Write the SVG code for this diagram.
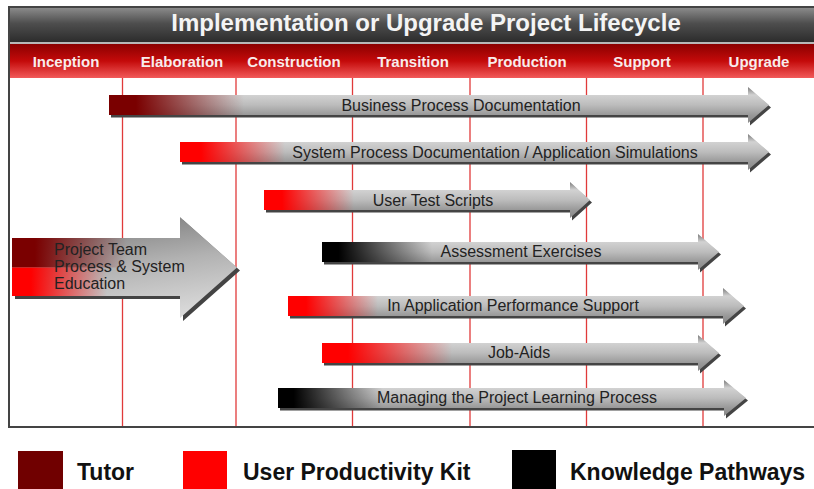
<svg xmlns="http://www.w3.org/2000/svg" width="814" height="489" viewBox="0 0 814 489">
<defs>
<linearGradient id="gTitle" x1="0" y1="0" x2="0" y2="1">
<stop offset="0" stop-color="#8a8a8a"/>
<stop offset="0.45" stop-color="#4e4e4e"/>
<stop offset="1" stop-color="#2c2c2c"/>
</linearGradient>
<linearGradient id="gRed" x1="0" y1="0" x2="0" y2="1">
<stop offset="0" stop-color="#8a0000"/>
<stop offset="0.5" stop-color="#c40a0a"/>
<stop offset="1" stop-color="#f25a5a"/>
</linearGradient>
<linearGradient id="gGray" x1="0" y1="0" x2="0" y2="1">
<stop offset="0" stop-color="#7a7a7a"/>
<stop offset="0.22" stop-color="#d2d2d2"/>
<stop offset="0.5" stop-color="#bcbcbc"/>
<stop offset="0.78" stop-color="#989898"/>
<stop offset="1" stop-color="#888888"/>
</linearGradient>
<linearGradient id="gBig" x1="0.3" y1="0" x2="0.6" y2="1">
<stop offset="0" stop-color="#7a7a7a"/>
<stop offset="0.5" stop-color="#b2b2b2"/>
<stop offset="1" stop-color="#dadada"/>
</linearGradient>
<linearGradient id="fTutor" x1="0" y1="0" x2="1" y2="0">
<stop offset="0" stop-color="#7a0000" stop-opacity="1"/>
<stop offset="0.2" stop-color="#7a0000" stop-opacity="1"/>
<stop offset="1" stop-color="#7a0000" stop-opacity="0"/>
</linearGradient>
<linearGradient id="fUpk" x1="0" y1="0" x2="1" y2="0">
<stop offset="0" stop-color="#ff0000" stop-opacity="1"/>
<stop offset="0.2" stop-color="#ff0000" stop-opacity="1"/>
<stop offset="1" stop-color="#ff0000" stop-opacity="0"/>
</linearGradient>
<linearGradient id="fKp" x1="0" y1="0" x2="1" y2="0">
<stop offset="0" stop-color="#000000" stop-opacity="1"/>
<stop offset="0.15" stop-color="#000000" stop-opacity="1"/>
<stop offset="1" stop-color="#000000" stop-opacity="0"/>
</linearGradient>
</defs>
<style>
.phase{font-family:"Liberation Sans",Arial,sans-serif;font-weight:bold;font-size:15px;fill:#f8ecec;text-anchor:middle}
.title{font-family:"Liberation Sans",Arial,sans-serif;font-weight:bold;font-size:24px;fill:#f4f4f4;text-anchor:middle}
.lbl{font-family:"Liberation Sans",Arial,sans-serif;font-size:16px;fill:#222;text-anchor:middle}
.lbl2{font-family:"Liberation Sans",Arial,sans-serif;font-size:16px;fill:#222}
.leg{font-family:"Liberation Sans",Arial,sans-serif;font-weight:bold;font-size:23px;fill:#111}
.vline{stroke:#e03a3a;stroke-width:1.3}
.shadow{fill:#444444}
.body{fill:url(#gGray)}
</style>
<rect x="0" y="0" width="814" height="489" fill="#ffffff"/>
<g id="frame">
<rect x="9" y="7" width="820" height="420" fill="#ffffff" stroke="#444" stroke-width="2"/>
<rect x="10" y="8" width="810" height="34" fill="url(#gTitle)"/>
<rect x="10" y="42" width="810" height="2" fill="#b8b8b8"/>
<rect x="10" y="44" width="810" height="34" fill="url(#gRed)"/>
<text class="title" x="426" y="31">Implementation or Upgrade Project Lifecycle</text>
</g>
<g id="phases">
<text class="phase" x="66" y="67">Inception</text>
<text class="phase" x="182" y="67">Elaboration</text>
<text class="phase" x="294" y="67">Construction</text>
<text class="phase" x="413" y="67">Transition</text>
<text class="phase" x="527" y="67">Production</text>
<text class="phase" x="642" y="67">Support</text>
<text class="phase" x="759" y="67">Upgrade</text>
</g>
<g id="gridlines">
<line class="vline" x1="122.5" y1="78" x2="122.5" y2="426"/>
<line class="vline" x1="236" y1="78" x2="236" y2="426"/>
<line class="vline" x1="352.5" y1="78" x2="352.5" y2="426"/>
<line class="vline" x1="470" y1="78" x2="470" y2="426"/>
<line class="vline" x1="586.5" y1="78" x2="586.5" y2="426"/>
<line class="vline" x1="703" y1="78" x2="703" y2="426"/>
</g>
<g id="connectors"></g>
<g id="education">
<path class="shadow" transform="translate(3,3)" d="M12,238 H180 V217 L237,267.5 L180,318 V296 H12 Z"/>
<path fill="url(#gBig)" d="M12,238 H180 V217 L237,267.5 L180,318 V296 H12 Z"/>
<rect x="12" y="238" width="115" height="29.5" fill="url(#fTutor)"/>
<rect x="12" y="267.5" width="95" height="28.5" fill="url(#fUpk)"/>
<text class="lbl2" x="54" y="255">Project Team</text>
<text class="lbl2" x="54" y="272">Process &amp; System</text>
<text class="lbl2" x="54" y="289">Education</text>
</g>
<g id="bpd">
<path class="shadow" transform="translate(2,2.5)" d="M109,95 H748 V87 L769,105 L748,123 V115 H109 Z"/>
<path class="body" d="M109,95 H748 V87 L769,105 L748,123 V115 H109 Z"/>
<rect x="109" y="95" width="135" height="20" fill="url(#fTutor)"/>
<text class="lbl" x="461" y="111">Business Process Documentation</text>
</g>
<g id="spd">
<path class="shadow" transform="translate(2,2.5)" d="M180,142 H748 V134 L769,152 L748,170 V162 H180 Z"/>
<path class="body" d="M180,142 H748 V134 L769,152 L748,170 V162 H180 Z"/>
<rect x="180" y="142" width="105" height="20" fill="url(#fUpk)"/>
<text class="lbl" x="495" y="158">System Process Documentation / Application Simulations</text>
</g>
<g id="uts">
<path class="shadow" transform="translate(2,2.5)" d="M264,190 H570 V182 L590,200 L570,218 V210 H264 Z"/>
<path class="body" d="M264,190 H570 V182 L590,200 L570,218 V210 H264 Z"/>
<rect x="264" y="190" width="90" height="20" fill="url(#fUpk)"/>
<text class="lbl" x="433" y="206">User Test Scripts</text>
</g>
<g id="ae">
<path class="shadow" transform="translate(2,2.5)" d="M322,242 H698 V234 L719,252 L698,270 V262 H322 Z"/>
<path class="body" d="M322,242 H698 V234 L719,252 L698,270 V262 H322 Z"/>
<rect x="322" y="242" width="110" height="20" fill="url(#fKp)"/>
<text class="lbl" x="521" y="257">Assessment Exercises</text>
</g>
<g id="iaps">
<path class="shadow" transform="translate(2,2.5)" d="M288,296 H723 V288 L744,306 L723,324 V316 H288 Z"/>
<path class="body" d="M288,296 H723 V288 L744,306 L723,324 V316 H288 Z"/>
<rect x="288" y="296" width="90" height="20" fill="url(#fUpk)"/>
<text class="lbl" x="513" y="311">In Application Performance Support</text>
</g>
<g id="ja">
<path class="shadow" transform="translate(2,2.5)" d="M322,343 H698 V335 L719,353 L698,371 V363 H322 Z"/>
<path class="body" d="M322,343 H698 V335 L719,353 L698,371 V363 H322 Z"/>
<rect x="322" y="343" width="130" height="20" fill="url(#fUpk)"/>
<text class="lbl" x="519" y="358">Job-Aids</text>
</g>
<g id="mplp">
<path class="shadow" transform="translate(2,2.5)" d="M278,388 H724 V380 L746,398 L724,416 V408 H278 Z"/>
<path class="body" d="M278,388 H724 V380 L746,398 L724,416 V408 H278 Z"/>
<rect x="278" y="388" width="105" height="20" fill="url(#fKp)"/>
<text class="lbl" x="517" y="403">Managing the Project Learning Process</text>
</g>
<g id="legend">
<g id="leg-tutor">
<rect x="18" y="451" width="45" height="45" fill="#700000"/>
<text class="leg" x="77" y="480">Tutor</text>
</g>
<g id="leg-upk">
<rect x="183" y="451" width="44" height="45" fill="#ff0000"/>
<text class="leg" x="243" y="480">User Productivity Kit</text>
</g>
<g id="leg-kp">
<rect x="512" y="450" width="44" height="46" fill="#000000"/>
<text class="leg" x="570" y="480">Knowledge Pathways</text>
</g>
</g>
</svg>
